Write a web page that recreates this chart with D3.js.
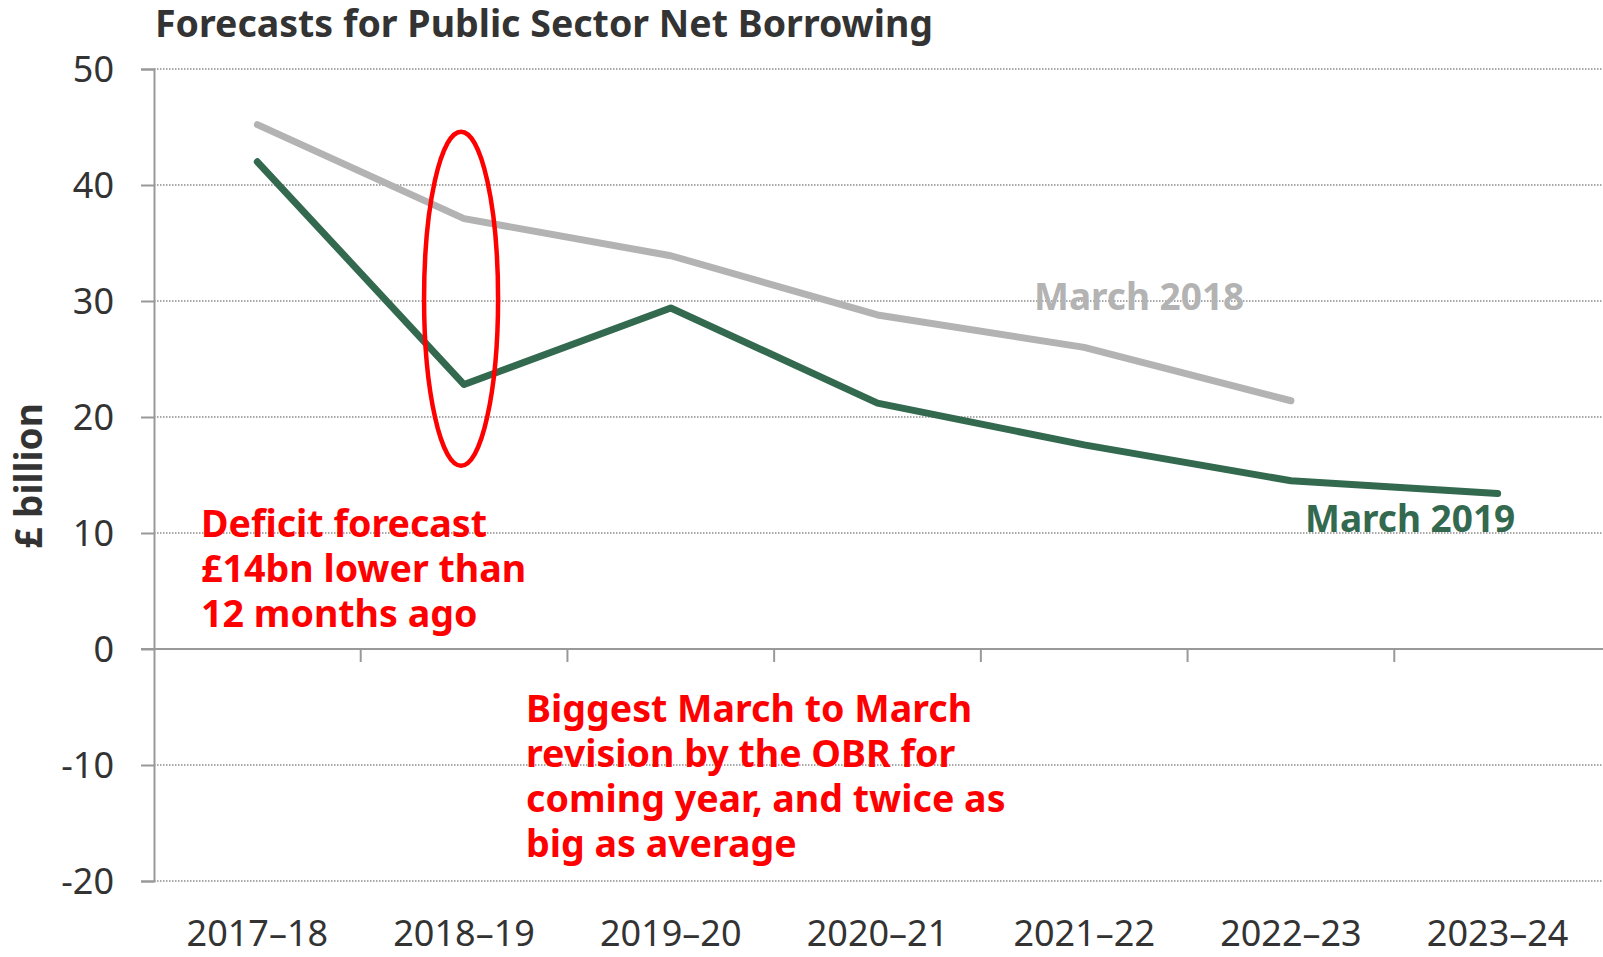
<!DOCTYPE html>
<html>
<head>
<meta charset="utf-8">
<script src="https://cdn.jsdelivr.net/npm/d3@7"></script>
<style>
    body { margin: 0; background: #ffffff; }
    svg { display: block; font-family: "Noto Sans", "Open Sans", sans-serif; }
</style>
</head>
<body>
<svg id="chart" width="1603" height="957"></svg>
<script>
"use strict";

const years = ["2017–18", "2018–19", "2019–20", "2020–21", "2021–22", "2022–23", "2023–24"];
const march2018 = [45.2, 37.1, 33.9, 28.8, 26.0, 21.4];
const march2019 = [42.0, 22.8, 29.4, 21.2, 17.6, 14.5, 13.4];
const yTicks = [50, 40, 30, 20, 10, 0, -10, -20];
const note1 = ["Deficit forecast", "£14bn lower than", "12 months ago"];
const note2 = ["Biggest March to March", "revision by the OBR for", "coming year, and twice as", "big as average"];

const plotLeft = 154, plotRight = 1601, plotTop = 69, plotBottom = 881;
const gray = "#b3b3b3", green = "#33694f", red = "#ff0000", textColor = "#333333";
const fontFamily = '"Noto Sans", "Open Sans", sans-serif';

var svg = d3.select("#chart");

var xScale = d3.scaleBand().domain(years).range([plotLeft, plotRight]);
var yScale = d3.scaleLinear().domain([-20, 50]).range([plotBottom, plotTop]);
var xMid = d => xScale(d) + xScale.bandwidth() / 2;

// dotted gridlines (0 gets a solid line below)
svg.append("g")
    .selectAll("line")
    .data(yTicks.filter(t => t != 0))
    .join("line")
        .attr("x1", plotLeft).attr("x2", 1603)
        .attr("y1", t => yScale(t)).attr("y2", t => yScale(t))
        .attr("stroke", "#8c8c8c")
        .attr("stroke-width", 1.5)
        .attr("stroke-dasharray", "1.5,1.5");

// y axis
var yAxis = svg.append("g")
    .attr("transform", "translate(" + plotLeft + ",0)")
    .call(d3.axisLeft(yScale).tickValues(yTicks).tickFormat(d => String(d))
        .tickSize(13).tickPadding(27));
yAxis.attr("font-family", fontFamily);
yAxis.select(".domain").attr("stroke", "#999999").attr("stroke-width", 2);
yAxis.selectAll(".tick line").attr("stroke", "#999999").attr("stroke-width", 2);
yAxis.selectAll(".tick text")
    .attr("fill", textColor)
    .style("font-size", "36px")
    .attr("dy", "0.36em");

// zero line with category ticks
var xAxis = svg.append("g")
    .attr("transform", "translate(0," + yScale(0) + ")");
xAxis.append("line")
    .attr("x1", plotLeft - 13).attr("x2", 1603)
    .attr("stroke", "#999999").attr("stroke-width", 2);
xAxis.selectAll("line.tk")
    .data(years.slice(1))
    .join("line")
        .attr("class", "tk")
        .attr("x1", d => xScale(d)).attr("x2", d => xScale(d))
        .attr("y1", 0).attr("y2", 13)
        .attr("stroke", "#999999").attr("stroke-width", 2);

// category labels at the bottom
svg.append("g")
    .selectAll("text")
    .data(years)
    .join("text")
        .attr("x", d => xMid(d))
        .attr("y", 946)
        .attr("text-anchor", "middle")
        .attr("fill", textColor)
        .style("font-size", "36px")
        .text(d => d);

// lines
var line = d3.line()
    .x((v, i) => xMid(years[i]))
    .y(v => yScale(v));

svg.append("path")
    .attr("d", line(march2018))
    .attr("fill", "none")
    .attr("stroke", gray)
    .attr("stroke-width", 7)
    .attr("stroke-linecap", "round")
    .attr("stroke-linejoin", "round");

svg.append("path")
    .attr("d", line(march2019))
    .attr("fill", "none")
    .attr("stroke", green)
    .attr("stroke-width", 7)
    .attr("stroke-linecap", "round")
    .attr("stroke-linejoin", "round");

// red ellipse round 2018-19
svg.append("ellipse")
    .attr("cx", xMid("2018–19") - 3)
    .attr("cy", yScale(30.2))
    .attr("rx", 37)
    .attr("ry", (yScale(15.8) - yScale(44.6)) / 2)
    .attr("fill", "none")
    .attr("stroke", red)
    .attr("stroke-width", 4.5);

// series labels
svg.append("text")
    .attr("x", 1034).attr("y", 310)
    .attr("fill", gray)
    .style("font-size", "37px").style("font-weight", "bold")
    .text("March 2018");

svg.append("text")
    .attr("x", 1305).attr("y", 532)
    .attr("fill", green)
    .style("font-size", "37px").style("font-weight", "bold")
    .text("March 2019");

// annotations
function addNote(lines, x, y) {
    svg.append("g")
        .selectAll("text")
        .data(lines)
        .join("text")
            .attr("x", x)
            .attr("y", (d, i) => y + i * 45)
            .attr("fill", red)
            .style("font-size", "37.6px").style("font-weight", "bold")
            .text(d => d);
}
addNote(note1, 201, 537);
addNote(note2, 526, 722);

// y label
svg.append("text")
    .attr("transform", "translate(42,476) rotate(-90)")
    .attr("text-anchor", "middle")
    .attr("fill", textColor)
    .style("font-size", "37px").style("font-weight", "bold")
    .text("£ billion");

// title
svg.append("text")
    .attr("x", 155).attr("y", 37)
    .attr("fill", textColor)
    .style("font-size", "37.5px").style("font-weight", "bold")
    .text("Forecasts for Public Sector Net Borrowing");
</script>
</body>
</html>
